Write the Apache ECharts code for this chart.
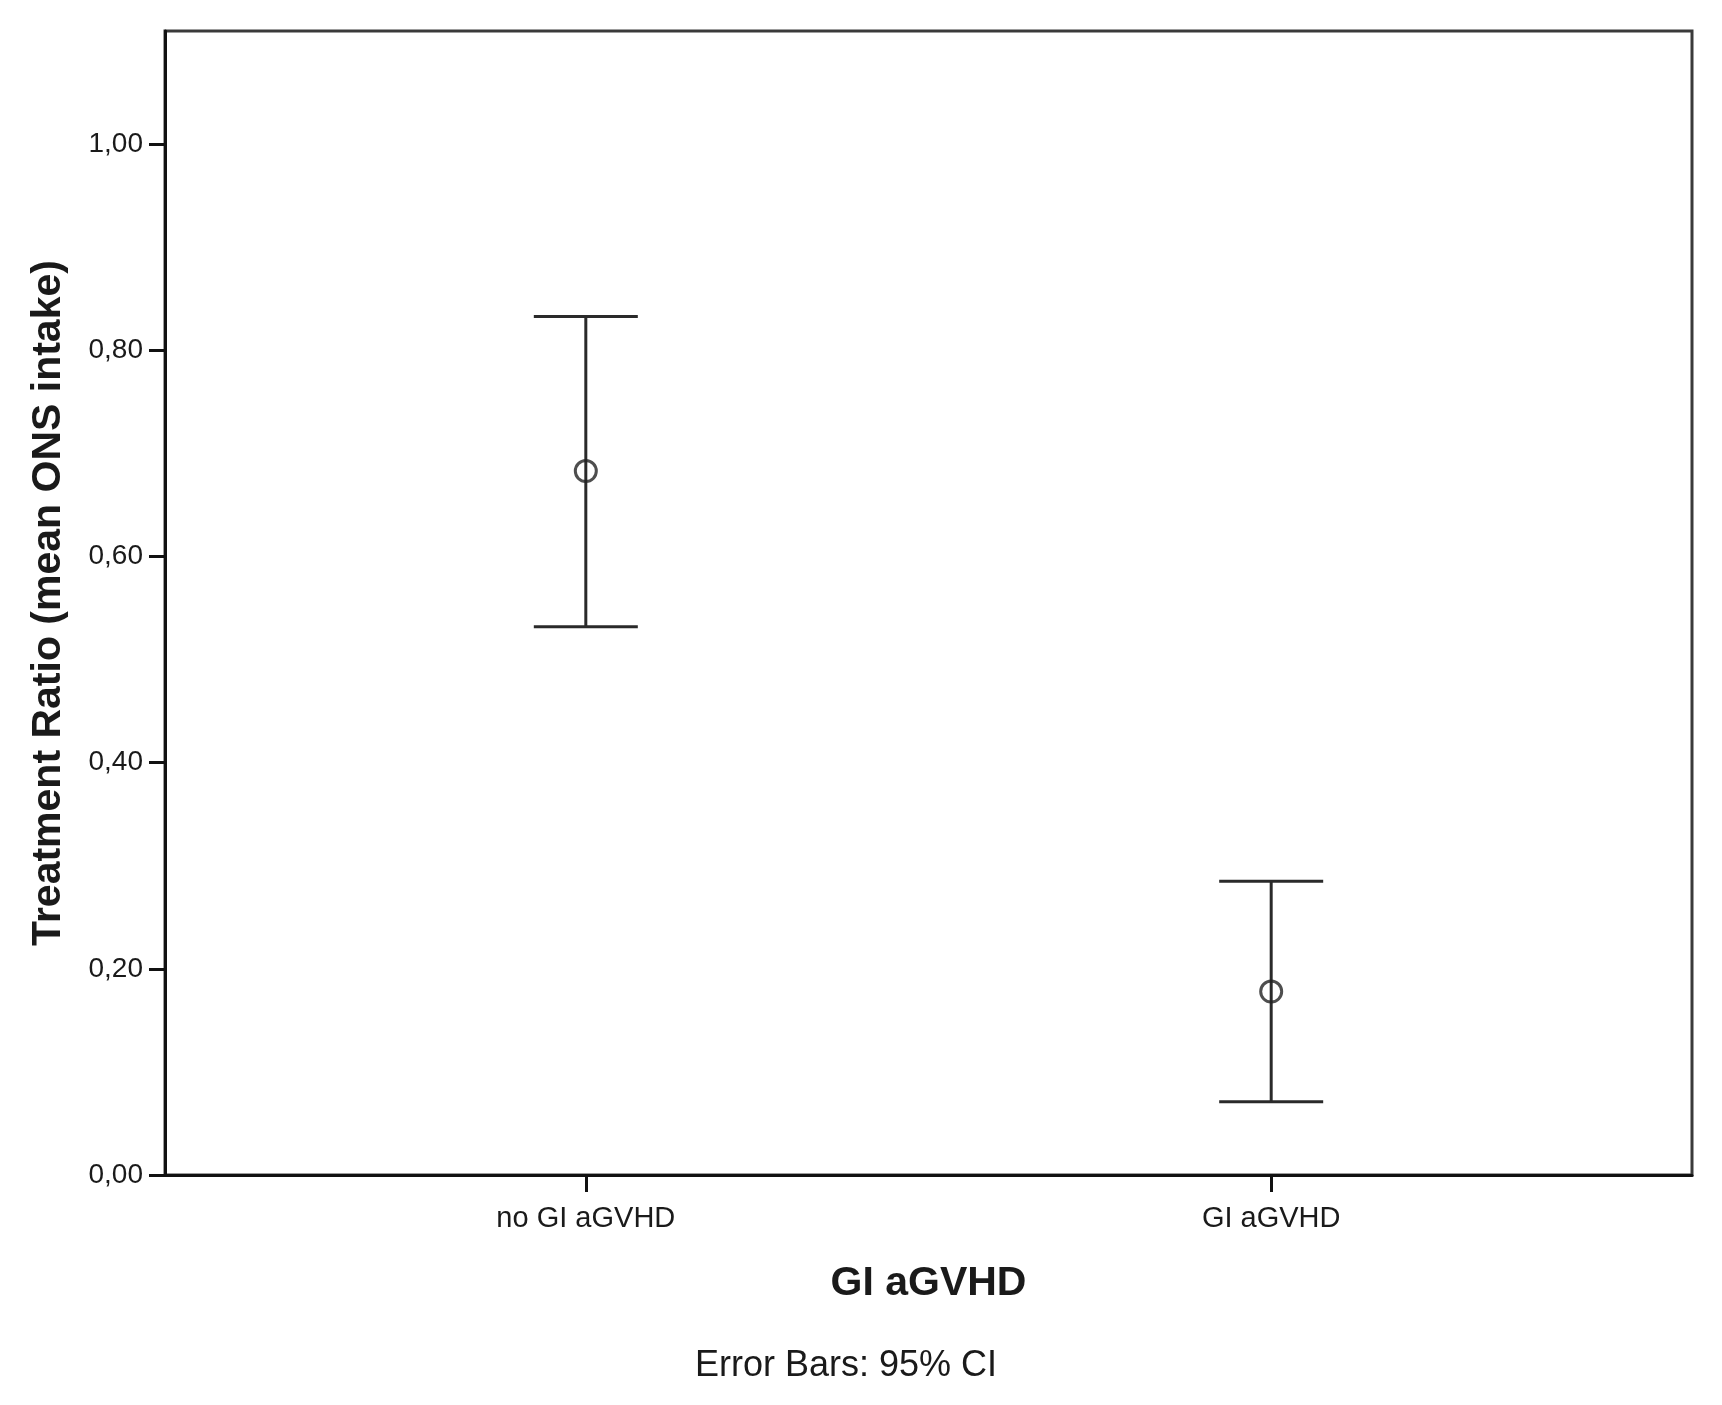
<!DOCTYPE html>
<html>
<head>
<meta charset="utf-8">
<title>Treatment Ratio by GI aGVHD</title>
<script src="https://cdn.jsdelivr.net/npm/echarts@6/dist/echarts.min.js"></script>
<style>
    html, body { margin: 0; padding: 0; background: #ffffff; }
    #chart { width: 1722px; height: 1405px; }
</style>
</head>
<body>
<div id="chart"></div>
<script>
"use strict";

// data
const categories = ["no GI aGVHD", "GI aGVHD"];
const meanValues = [0.683, 0.178];
const lowerCI = [0.532, 0.071];
const upperCI = [0.833, 0.285];
const yTickValues = [0, 0.2, 0.4, 0.6, 0.8, 1.0];
const xPositions = categories.map((c, i) => i + 1);

const FONT = "'Liberation Sans', Arial, sans-serif";
const INK = "#1a1a1a";
const CAP_HALF = 52;

const chart = echarts.init(document.getElementById("chart"));

function renderErrorBar(params, api){
    const x = api.value(0);
    const lo = api.coord([x, api.value(1)]);
    const hi = api.coord([x, api.value(2)]);
    const style = { stroke: "#2a2a2a", lineWidth: 3 };
    return {
        type: "group",
        children: [
            { type: "line", shape: { x1: lo[0], y1: lo[1], x2: hi[0], y2: hi[1] }, style },
            { type: "line", shape: { x1: hi[0] - CAP_HALF, y1: hi[1], x2: hi[0] + CAP_HALF, y2: hi[1] }, style },
            { type: "line", shape: { x1: lo[0] - CAP_HALF, y1: lo[1], x2: lo[0] + CAP_HALF, y2: lo[1] }, style }
        ]
    };
}

chart.setOption({
    animation: false,
    grid: {
        left: 165, right: 30, top: 31, bottom: 230,
        show: true, borderColor: "#3a3a3a", borderWidth: 3, backgroundColor: "#ffffff"
    },
    xAxis: {
        type: "value",
        min: 0.386,
        max: 2.614,
        name: "GI aGVHD",
        nameLocation: "middle",
        nameGap: 88,
        nameTextStyle: { fontFamily: FONT, fontSize: 41, fontWeight: "bold", color: INK },
        axisLine: { show: true, lineStyle: { color: "#111111", width: 3 } },
        axisTick: { show: true, customValues: xPositions, length: 17, lineStyle: { color: "#111111", width: 3 } },
        axisLabel: {
            customValues: xPositions,
            formatter: v => categories[Math.round(v) - 1] || "",
            margin: 29,
            fontFamily: FONT, fontSize: 29, color: INK
        },
        splitLine: { show: false }
    },
    yAxis: {
        type: "value",
        min: 0,
        max: 1.11,
        name: "Treatment Ratio (mean ONS intake)",
        nameLocation: "middle",
        nameGap: 96,
        nameTextStyle: { fontFamily: FONT, fontSize: 41, fontWeight: "bold", color: INK },
        axisLine: { show: true, lineStyle: { color: "#111111", width: 3 } },
        axisTick: { show: true, customValues: yTickValues, length: 16, lineStyle: { color: "#111111", width: 3 } },
        axisLabel: {
            customValues: yTickValues,
            formatter: v => v.toFixed(2).replace(".", ","),
            margin: 22,
            fontFamily: FONT, fontSize: 28, color: INK
        },
        splitLine: { show: false }
    },
    graphic: [{
        type: "text",
        x: 846,
        y: 1366,
        style: {
            text: "Error Bars: 95% CI",
            fontFamily: FONT,
            fontSize: 36,
            fill: INK,
            align: "center",
            verticalAlign: "middle"
        }
    }],
    series: [
        {
            type: "custom",
            renderItem: renderErrorBar,
            data: categories.map((c, i) => [xPositions[i], lowerCI[i], upperCI[i]]),
            z: 2
        },
        {
            type: "scatter",
            symbol: "circle",
            symbolSize: 21,
            data: categories.map((c, i) => [xPositions[i], meanValues[i]]),
            itemStyle: { color: "rgba(0,0,0,0)", borderColor: "#222222", borderWidth: 3 },
            z: 3
        }
    ]
});

window.addEventListener("resize", () => chart.resize());
</script>
</body>
</html>
